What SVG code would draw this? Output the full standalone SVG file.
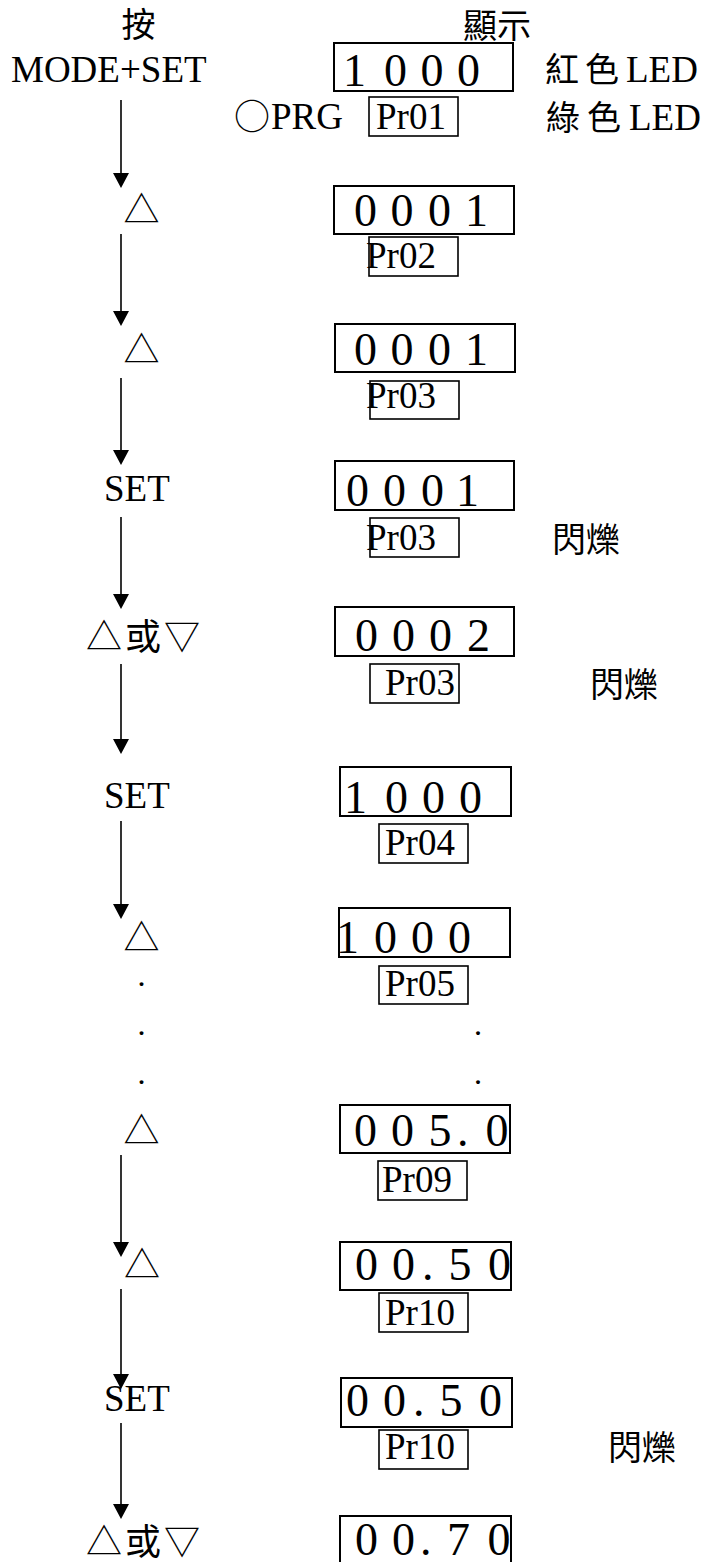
<svg xmlns="http://www.w3.org/2000/svg" width="704" height="1562" viewBox="0 0 704 1562">
<style>
.lat{font-family:"Liberation Serif","Times New Roman",serif;fill:#000}
.key{font-size:37px}
.dot{font-size:24px;font-weight:bold}
.dig{font-size:46px}
.pr{font-size:37px}
.cjk{font-family:"Noto Sans CJK TC","Noto Sans CJK SC",sans-serif;font-size:34px;fill:#000}
.sym{font-family:"Noto Sans CJK TC","Noto Sans CJK SC",sans-serif;font-size:36px;fill:#000}
.box{fill:none;stroke:#000;stroke-width:2}
.pbox{fill:none;stroke:#000;stroke-width:1.6}
.con{stroke:#000;stroke-width:1.6;fill:none}
</style>
<defs>
<marker id="ah" markerUnits="userSpaceOnUse" markerWidth="15" markerHeight="16" refX="0" refY="8" orient="auto" viewBox="0 0 15 16">
<path d="M0,0 L15,8 L0,16 z" fill="#000"/>
</marker>
</defs>
<rect width="704" height="1562" fill="#fff"/>

<g id="header">
<text class="cjk" x="138.5" y="37" text-anchor="middle">按</text>
<text class="cjk" x="463" y="38">顯示</text>
</g>

<g id="connectors">
<line class="con" x1="121" y1="100" x2="121" y2="173" marker-end="url(#ah)"/>
<line class="con" x1="121" y1="234" x2="121" y2="311" marker-end="url(#ah)"/>
<line class="con" x1="121" y1="378" x2="121" y2="450" marker-end="url(#ah)"/>
<line class="con" x1="121" y1="517" x2="121" y2="594" marker-end="url(#ah)"/>
<line class="con" x1="121" y1="664" x2="121" y2="739" marker-end="url(#ah)"/>
<line class="con" x1="121" y1="821" x2="121" y2="904" marker-end="url(#ah)"/>
<line class="con" x1="121" y1="1155" x2="121" y2="1242" marker-end="url(#ah)"/>
<line class="con" x1="121" y1="1289" x2="121" y2="1374" marker-end="url(#ah)"/>
<line class="con" x1="121" y1="1423" x2="121" y2="1504" marker-end="url(#ah)"/>
</g>

<g id="keys">
<text id="k0" class="lat key" x="11" y="82">MODE+SET</text>
<text id="k1" class="sym" x="141.5" y="223" text-anchor="middle">△</text>
<text id="k2" class="sym" x="141.5" y="363" text-anchor="middle">△</text>
<text id="k3" class="lat key" x="104" y="501">SET</text>
<text id="k4" class="sym" x="86 125 164" y="650">△或▽</text>
<text id="k5" class="lat key" x="104" y="808">SET</text>
<text id="k6" class="sym" x="141.5" y="951" text-anchor="middle">△</text>
<text id="k7" class="lat dot" x="138.4" y="986">.</text>
<text id="k8" class="lat dot" x="138.4" y="1035">.</text>
<text id="k9" class="lat dot" x="138.4" y="1084">.</text>
<text id="k10" class="sym" x="141.5" y="1144" text-anchor="middle">△</text>
<text id="k11" class="sym" x="142" y="1278" text-anchor="middle">△</text>
<text id="k12" class="lat key" x="104" y="1411">SET</text>
<text id="k13" class="sym" x="86 125 164" y="1555">△或▽</text>
</g>

<g id="d1">
<rect class="box" x="334" y="43" width="179" height="48"/>
<text class="lat dig" x="343 384 420.6 457" y="85.5">1000</text>
<text class="cjk" x="545 585" y="81.5">紅色</text>
<text class="lat key" x="626" y="82">LED</text>
<text class="sym" x="234" y="130">○</text>
<text class="lat key" x="271" y="129">PRG</text>
<rect class="pbox" x="369" y="97" width="89" height="39"/>
<text class="lat pr" x="376" y="129">Pr01</text>
<text class="cjk" x="546 587" y="130">綠色</text>
<text class="lat key" x="629" y="130">LED</text>
</g>

<g id="d2">
<rect class="box" x="334" y="186" width="180" height="48"/>
<text class="lat dig" x="354 390.6 428 465" y="225.5">0001</text>
<rect class="pbox" x="369" y="237" width="89" height="39"/>
<text class="lat pr" x="366" y="268">Pr02</text>
</g>

<g id="d3">
<rect class="box" x="335" y="324" width="180" height="48"/>
<text class="lat dig" x="354 390.6 428 465" y="364.5">0001</text>
<rect class="pbox" x="370" y="381" width="89" height="38"/>
<text class="lat pr" x="366" y="408">Pr03</text>
</g>

<g id="d4">
<rect class="box" x="335" y="461" width="179" height="49"/>
<text class="lat dig" x="346 383 421 456" y="505.5">0001</text>
<rect class="pbox" x="370" y="518" width="89" height="39"/>
<text class="lat pr" x="366" y="550">Pr03</text>
<text class="cjk" x="552 586" y="552">閃爍</text>
</g>

<g id="d5">
<rect class="box" x="335" y="607" width="179" height="49"/>
<text class="lat dig" x="355 392 429 467" y="651">0002</text>
<rect class="pbox" x="370" y="664" width="89" height="39"/>
<text class="lat pr" x="385" y="695">Pr03</text>
<text class="cjk" x="590 624" y="697">閃爍</text>
</g>

<g id="d6">
<rect class="box" x="340" y="767" width="171" height="49"/>
<text class="lat dig" x="344 385 422 459" y="813">1000</text>
<rect class="pbox" x="379" y="824" width="89" height="39"/>
<text class="lat pr" x="385" y="855">Pr04</text>
</g>

<g id="d7">
<rect class="box" x="339" y="908" width="171" height="49"/>
<text class="lat dig" x="336 374 411 448" y="953">1000</text>
<rect class="pbox" x="379" y="966" width="89" height="38"/>
<text class="lat pr" x="385" y="996">Pr05</text>
<text class="lat dot" x="475" y="1035">.</text>
<text class="lat dot" x="475" y="1084">.</text>
</g>

<g id="d8">
<rect class="box" x="340" y="1105" width="170" height="48"/>
<text class="lat dig" x="354 391 428.5 457 485.6" y="1146">005.0</text>
<rect class="pbox" x="378" y="1161" width="89" height="39"/>
<text class="lat pr" x="382" y="1191.5">Pr09</text>
</g>

<g id="d9">
<rect class="box" x="340" y="1242" width="171" height="48"/>
<text class="lat dig" x="355 392 422 448.5 488" y="1280">00.50</text>
<rect class="pbox" x="379" y="1293" width="89" height="39"/>
<text class="lat pr" x="385" y="1325">Pr10</text>
</g>

<g id="d10">
<rect class="box" x="341" y="1378" width="171" height="49"/>
<text class="lat dig" x="346 383 413 439.5 479" y="1416">00.50</text>
<rect class="pbox" x="379" y="1430" width="89" height="39"/>
<text class="lat pr" x="385" y="1459">Pr10</text>
<text class="cjk" x="608 642" y="1460">閃爍</text>
</g>

<g id="d11">
<rect class="box" x="340" y="1516" width="171" height="49"/>
<text class="lat dig" x="355 392 420 447 487.6" y="1555">00.70</text>
</g>
</svg>
